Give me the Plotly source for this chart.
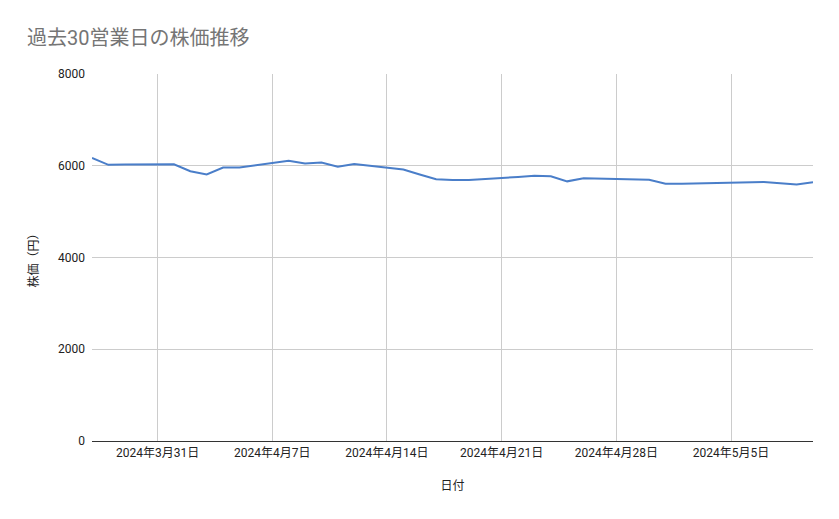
import plotly.graph_objects as go

dates = [
    "2024-03-27", "2024-03-28", "2024-03-29", "2024-04-01", "2024-04-02",
    "2024-04-03", "2024-04-04", "2024-04-05", "2024-04-08", "2024-04-09",
    "2024-04-10", "2024-04-11", "2024-04-12", "2024-04-15", "2024-04-16",
    "2024-04-17", "2024-04-18", "2024-04-19", "2024-04-22", "2024-04-23",
    "2024-04-24", "2024-04-25", "2024-04-26", "2024-04-30", "2024-05-01",
    "2024-05-02", "2024-05-07", "2024-05-08", "2024-05-09", "2024-05-10",
]
prices = [
    6170, 6020, 6025, 6030, 5880,
    5810, 5960, 5960, 6110, 6050,
    6070, 5980, 6040, 5920, 5810,
    5705, 5690, 5690, 5755, 5780,
    5770, 5660, 5725, 5695, 5610,
    5610, 5645, 5610, 5590, 5640,
]

x_tick_vals = ["2024-03-31", "2024-04-07", "2024-04-14", "2024-04-21", "2024-04-28", "2024-05-05"]
x_tick_text = ["2024年3月31日", "2024年4月7日", "2024年4月14日", "2024年4月21日", "2024年4月28日", "2024年5月5日"]
y_tick_vals = [0, 2000, 4000, 6000, 8000]
y_tick_text = ["0", "2000", "4000", "6000", "8000"]

title_text = "過去30営業日の株価推移"
x_title = "日付"
y_title = "株価（円）"

FONT = "Roboto, Noto Sans CJK JP, sans-serif"

fig = go.Figure()
fig.add_trace(go.Scatter(
    x=dates, y=prices, mode="lines",
    line=dict(color="#4a7ec9", width=2),
    showlegend=False,
))

W, H = 823, 503
fig.update_layout(
    width=W, height=H,
    paper_bgcolor="white", plot_bgcolor="white",
    margin=dict(l=84, r=18, t=66, b=70),
    font=dict(family=FONT, size=12, color="#222222"),
    title=dict(
        text=title_text, xref="container", yref="container",
        x=19 / W, xanchor="left", y=1 - 30 / H, yanchor="middle",
        font=dict(family=FONT, size=20, color="#757575"),
    ),
    xaxis=dict(
        type="date", range=["2024-03-27", "2024-05-10"],
        tickmode="array", tickvals=x_tick_vals, ticktext=x_tick_text,
        showgrid=True, gridcolor="#cccccc", gridwidth=1,
        showline=False, zeroline=False, ticks="", ticklabelstandoff=3,
        tickfont=dict(size=12, color="#222222"),
        title=dict(text=x_title, standoff=22, font=dict(size=12, color="#222222")),
    ),
    yaxis=dict(
        range=[0, 8000], tickmode="array", tickvals=y_tick_vals, ticktext=y_tick_text,
        showgrid=True, gridcolor="#cccccc", gridwidth=1,
        zeroline=True, zerolinecolor="#333333", zerolinewidth=1,
        showline=False, ticks="", ticklabelstandoff=6,
        tickfont=dict(size=12, color="#222222"),
        title=dict(text=y_title, standoff=16, font=dict(size=12, color="#222222")),
    ),
)

fig.write_html("out.html")
